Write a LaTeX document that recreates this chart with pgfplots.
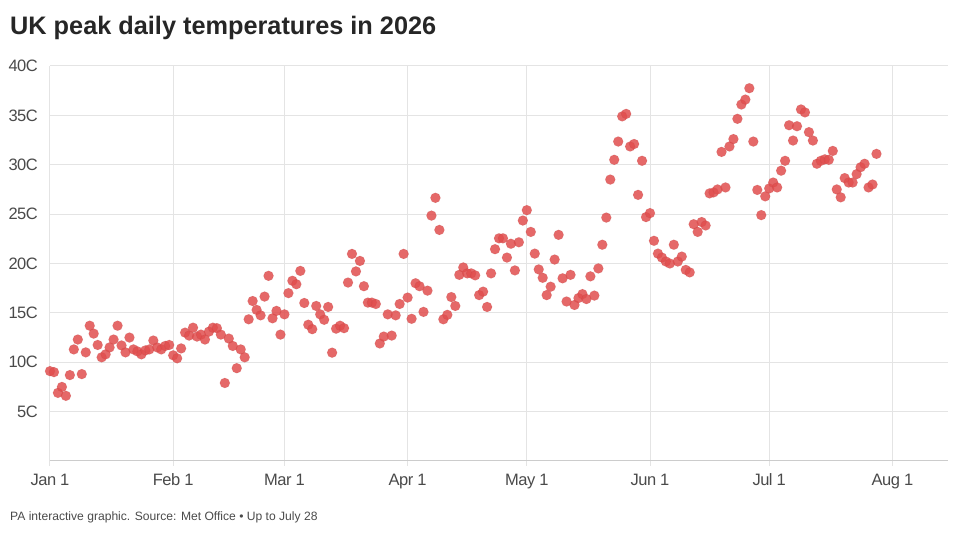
\documentclass[border=0pt]{standalone}
\usepackage{pgfplots}
\pgfplotsset{compat=1.18}
\usepackage{pgfplotstable}
\usepackage{fontspec}
\setmainfont{Liberation Sans}
\newfontfamily\tickfont[LetterSpace=-3]{Liberation Sans}
\definecolor{dotred}{HTML}{E04E4E}
\definecolor{gridc}{HTML}{E4E4E4}
\definecolor{axisc}{HTML}{CCCCCC}
\definecolor{labc}{HTML}{4A4A4A}
\definecolor{titc}{HTML}{262626}
\pgfplotstableread{
d t
0 9.1
1 9.0
2 6.9
3 7.5
4 6.6
5 8.7
6 11.3
7 12.3
8 8.8
9 11.0
10 13.7
11 12.9
12 11.75
13 10.5
14 10.8
15 11.5
16 12.3
17 13.7
18 11.7
19 11.0
20 12.5
21 11.3
22 11.1
23 10.8
24 11.2
25 11.3
26 12.2
27 11.5
28 11.3
29 11.65
30 11.75
31 10.7
32 10.4
33 11.4
34 13.0
35 12.7
36 13.5
37 12.6
38 12.8
39 12.3
40 13.1
41 13.5
42 13.45
43 12.8
44 7.9
45 12.4
46 11.65
47 9.4
48 11.3
49 10.5
50 14.35
51 16.2
52 15.3
53 14.75
54 16.65
55 18.75
56 14.45
57 15.2
58 12.8
59 14.85
60 17.0
61 18.25
62 17.9
63 19.25
64 16.0
65 13.8
66 13.35
67 15.7
68 14.85
69 14.3
70 15.6
71 10.97
72 13.4
73 13.7
74 13.45
75 18.07
76 20.97
77 19.2
78 20.26
79 17.7
80 16.04
81 16.04
82 15.9
83 11.9
84 12.6
85 14.85
86 12.7
87 14.75
88 15.9
89 20.97
90 16.55
91 14.4
92 18.0
93 17.7
94 15.1
95 17.25
96 24.85
97 26.65
98 23.4
99 14.35
100 14.8
101 16.6
102 15.7
103 18.85
104 19.6
105 19.0
106 19.0
107 18.8
108 16.8
109 17.15
110 15.6
111 19.0
112 21.45
113 22.55
114 22.55
115 20.6
116 22.0
117 19.3
118 22.15
119 24.35
120 25.4
121 23.2
122 21.0
123 19.4
124 18.55
125 16.8
126 17.65
127 20.4
128 22.9
129 18.5
130 16.15
131 18.85
132 15.8
133 16.5
134 16.9
135 16.4
136 18.7
137 16.75
138 19.5
139 21.9
140 24.65
141 28.5
142 30.5
143 32.35
144 34.9
145 35.15
146 31.85
147 32.1
148 26.95
149 30.4
150 24.7
151 25.1
152 22.3
153 21.0
154 20.6
155 20.2
156 20.0
157 21.9
158 20.2
159 20.7
160 19.35
161 19.1
162 23.98
163 23.2
164 24.2
165 23.85
166 27.1
167 27.2
168 27.5
169 31.3
170 27.7
171 31.85
172 32.6
173 34.65
174 36.1
175 36.6
176 37.75
177 32.35
178 27.45
179 24.9
180 26.8
181 27.6
182 28.2
183 27.7
184 29.4
185 30.4
186 34.0
187 32.45
188 33.9
189 35.6
190 35.3
191 33.3
192 32.45
193 30.1
194 30.4
195 30.55
196 30.5
197 31.4
198 27.5
199 26.7
200 28.65
201 28.2
202 28.2
203 29.05
204 29.75
205 30.1
206 27.7
207 28.0
208 31.1
}\temps
\begin{document}
\begin{tikzpicture}[x=1pt,y=1pt]
\useasboundingbox (0pt,0pt) rectangle (960pt,535pt);
\begin{axis}[
 at={(50pt,74pt)}, anchor=south west,
 scale only axis, width=898pt, height=395pt,
 xmin=0, xmax=226, ymin=0, ymax=40,
 axis x line*=bottom, axis y line*=left,
 x axis line style={draw=axisc, line width=1pt, -},
 y axis line style={draw=none},
 xtick={0,31,59,90,120,151,181,212},
 xticklabels={Jan 1,Feb 1,Mar 1,Apr 1,May 1,Jun 1,Jul 1,Aug 1},
 ytick={5,10,...,40},
 yticklabels={5C,10C,15C,20C,25C,30C,35C,40C},
 grid=major, major grid style={draw=gridc, line width=1pt},
 tick align=outside, major tick length=5pt,
 xtick style={draw=gridc, line width=1pt},
 ytick style={draw=none},
 ticklabel style={font=\tickfont\fontsize{16.5}{16.5}\selectfont, text=labc},
 xticklabel style={anchor=north, inner sep=0pt, text height=12pt, text depth=4pt, yshift=-7pt},
 yticklabel style={anchor=east, inner sep=0pt, xshift=-7pt},
 clip=false,
]
\addplot[only marks, mark=*, mark size=5pt,
  mark options={fill=dotred, draw=dotred!80!black, fill opacity=0.85, draw opacity=0.2, line width=0.5pt}]
  table[x=d, y=t] {\temps};
\end{axis}
\node[anchor=base west, inner sep=0pt, font=\fontsize{25.3}{25.3}\selectfont\bfseries, text=titc] at (10pt,500pt) {UK peak daily temperatures in 2026};
\node[anchor=base west, inner sep=0pt, font=\fontsize{12.1}{12.1}\selectfont, text=labc] at (10pt,15pt) {PA interactive graphic. Source: Met Office \textbullet{} Up to July 28};
\end{tikzpicture}
\end{document}
